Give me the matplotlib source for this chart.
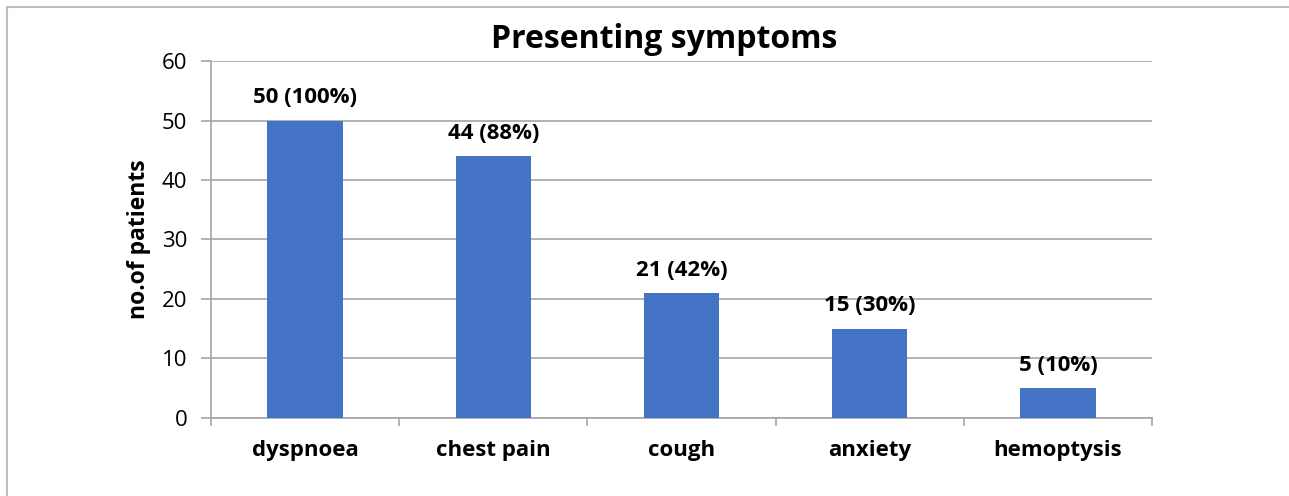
import matplotlib
matplotlib.use('Agg')
import matplotlib.pyplot as plt
from matplotlib.patches import Rectangle

# data
symptoms = ['dyspnoea', 'chest pain', 'cough', 'anxiety', 'hemoptysis']
patients = [50, 44, 21, 15, 5]
percents = [100, 88, 42, 30, 10]

plt.rcParams['font.family'] = ['Open Sans', 'DejaVu Sans']

fig = plt.figure(figsize=(12.89, 4.96), dpi=100)
ax = fig.add_axes([0.1637, 0.1573, 0.7300, 0.7197])

grid_col = '#a6a6a6'
x = range(len(symptoms))
ax.bar(x, patients, width=0.4, color='#4472C4', zorder=3)

for i, (n, p) in enumerate(zip(patients, percents)):
    ax.annotate(f'{n} ({p}%)', (i, n), xytext=(0, 9), textcoords='offset points',
                ha='center', va='bottom', fontsize=16, fontweight='bold')

ax.set_ylim(0, 60)
ax.set_xlim(-0.5, len(symptoms) - 0.5)
ax.set_yticks(range(0, 61, 10))
ax.yaxis.grid(True, color=grid_col, linewidth=1.2, zorder=0)
ax.tick_params(axis='y', labelsize=16, length=7, color=grid_col, width=1.2, pad=10)

ax.set_xticks(list(x))
ax.set_xticklabels(symptoms, fontsize=16, fontweight='bold')
ax.tick_params(axis='x', which='major', length=0, pad=16)
ax.set_xticks([i - 0.5 for i in range(len(symptoms) + 1)], minor=True)
ax.tick_params(axis='x', which='minor', length=6, color=grid_col, width=1.2)

for s in ['top', 'right']:
    ax.spines[s].set_visible(False)
for s in ['left', 'bottom']:
    ax.spines[s].set_color(grid_col)
    ax.spines[s].set_linewidth(1.2)

ax.set_ylabel('no.of patients', fontsize=16.5, fontweight='bold', labelpad=8)
fig.text(0.5155, 0.92, 'Presenting symptoms', ha='center', va='center',
         fontsize=23, fontweight='bold')

# outer chart border
fig.patches.append(Rectangle((7 / 1289, -0.1), 1.2, 1 - 7 / 496 + 0.1,
                             transform=fig.transFigure, fill=False,
                             edgecolor='#bfbfbf', linewidth=1.5))

plt.savefig('out.png', dpi=100)
